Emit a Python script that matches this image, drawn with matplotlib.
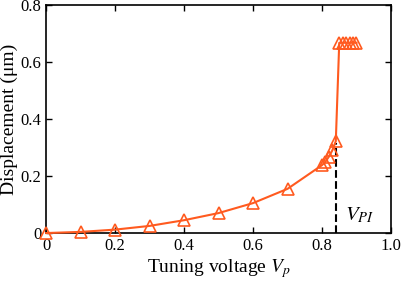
import matplotlib
matplotlib.use('Agg')
import matplotlib.pyplot as plt

# data
vp = [0, 0.1, 0.2, 0.3, 0.4, 0.5, 0.6, 0.7, 0.8, 0.81, 0.82, 0.83, 0.84,
      0.85, 0.86, 0.87, 0.88, 0.89, 0.90]
disp = [0, 0.004, 0.012, 0.025, 0.045, 0.07, 0.105, 0.155, 0.238, 0.25, 0.268, 0.29, 0.322,
        0.667, 0.667, 0.667, 0.667, 0.667, 0.667]
v_pi = 0.84
d_pi = 0.315

plt.rcParams['font.family'] = 'Liberation Serif'
plt.rcParams['mathtext.fontset'] = 'stix'

fig = plt.figure(figsize=(4.01, 2.87), dpi=100)
ax = fig.add_axes([0.115, 0.188, 0.86, 0.795])

ax.plot(vp, disp, color='#FF5A1F', lw=1.5, marker='^', ms=8, mfc='none',
        mec='#FF5A1F', mew=1.2, clip_on=False, zorder=3)
ax.plot([v_pi, v_pi], [0, d_pi], 'k--', lw=1.5)
ax.text(0.868, 0.045, r'$V_{PI}$', fontsize=15)

ax.set_xlim(0, 1.0)
ax.set_ylim(0, 0.8)
ax.set_xticks([0, 0.2, 0.4, 0.6, 0.8, 1.0])
ax.set_xticklabels(['0', '0.2', '0.4', '0.6', '0.8', '1.0'])
ax.set_yticks([0, 0.2, 0.4, 0.6, 0.8])
ax.set_yticklabels(['0', '0.2', '0.4', '0.6', '0.8'])
ax.tick_params(direction='in', top=True, right=True, labelsize=12, length=4, width=1)
for s in ax.spines.values():
    s.set_linewidth(1.2)
ax.set_xlabel(r'Tuning voltage $V_p$', fontsize=14, labelpad=2)
ax.set_ylabel('Displacement (μm)', fontsize=14, labelpad=2)

fig.savefig('out.png', dpi=100)
